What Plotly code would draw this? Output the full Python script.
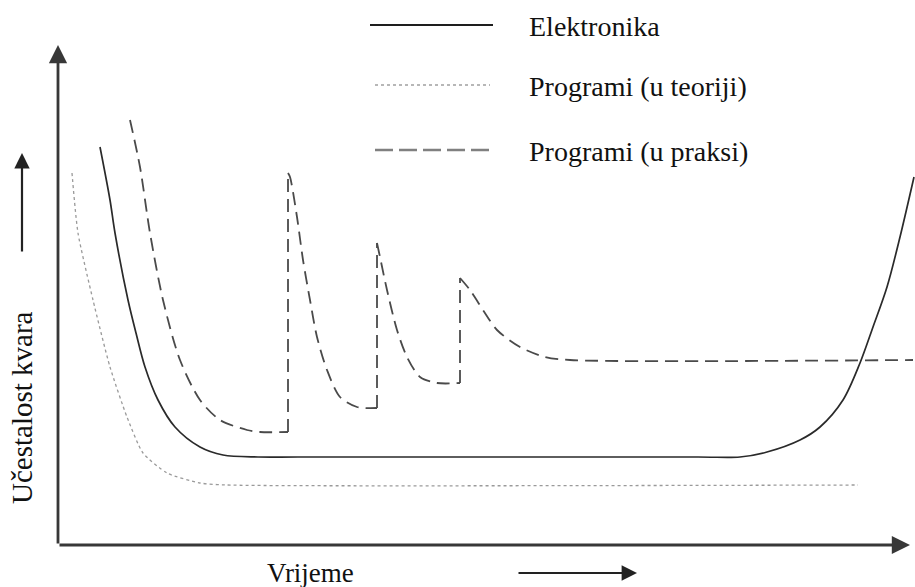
import plotly.graph_objects as go

# Schematic "bathtub" failure-rate curves (time units, failure-rate units)
elektronika_t = [42, 52, 57, 70, 78, 87, 100, 117, 142, 165, 200, 240, 640, 682, 709, 742, 762, 785, 802, 815, 829, 842, 856]
elektronika_r = [398, 345, 312, 245, 212, 178, 145, 118, 98, 90, 88, 88, 88, 88, 93, 105, 118, 145, 182, 218, 258, 308, 368]

teorija_t = [14, 20, 35, 52, 69, 85, 109, 142, 169, 800]
teorija_r = [372, 312, 245, 178, 128, 92, 72, 62, 60, 60]

praksa_t = [72, 82, 92, 105, 122, 142, 162, 189, 202, 230, 230, 232, 239, 245, 252, 259, 269, 282, 299, 319,
            319, 322, 329, 339, 349, 362, 379, 402, 402, 412, 425, 439, 462, 487, 512, 855]
praksa_r = [425, 378, 312, 245, 185, 145, 125, 115, 113, 113, 372, 368, 328, 285, 245, 208, 175, 148, 138, 137,
            302, 288, 255, 215, 188, 168, 162, 162, 267, 255, 235, 215, 198, 188, 185, 185]

serije = ["Elektronika", "Programi (u teoriji)", "Programi (u praksi)"]
os_x = "Vrijeme"
os_y = "Učestalost kvara"

FONT = "Liberation Serif"

fig = go.Figure()
fig.add_trace(go.Scatter(x=teorija_t, y=teorija_r, mode="lines", name=serije[1],
                         line=dict(color="#9a9a9a", width=1.3, dash="dot", shape="spline", smoothing=0.6)))
fig.add_trace(go.Scatter(x=elektronika_t, y=elektronika_r, mode="lines", name=serije[0],
                         line=dict(color="#2a2a2a", width=1.7, shape="spline", smoothing=0.9)))

# "in practice" curve: smooth decays between sudden jumps (jumps = repeated time value)
praksa_style = dict(color="#4a4a4a", width=1.8, dash="13px,7px")
start = 0
for i in range(1, len(praksa_t) + 1):
    if i == len(praksa_t) or praksa_t[i] == praksa_t[i - 1]:
        fig.add_trace(go.Scatter(x=praksa_t[start:i], y=praksa_r[start:i], mode="lines", name=serije[2],
                                 line=dict(**praksa_style, shape="spline", smoothing=0.8)))
        if i < len(praksa_t):
            fig.add_trace(go.Scatter(x=praksa_t[i - 1:i + 1], y=praksa_r[i - 1:i + 1], mode="lines",
                                     name=serije[2], line=praksa_style))
        start = i

# legend (drawn manually: long sample lines)
leg_y = [520, 460, 395]
leg_styles = [dict(color="#1e1e1e", width=1.8),
              dict(color="#a0a0a0", width=1.3, dash="dot"),
              dict(color="#808080", width=2.6, dash="18px,6px")]
leg_x = [[312, 435], [317, 432], [317, 432]]
for i in range(3):
    fig.add_shape(type="line", x0=leg_x[i][0], x1=leg_x[i][1], y0=leg_y[i], y1=leg_y[i],
                  xref="x", yref="y", line=leg_styles[i])
    fig.add_annotation(x=469, y=leg_y[i] - 1, text=serije[i], showarrow=False, xanchor="left",
                       yanchor="middle", font=dict(family=FONT, size=28, color="#111"))

# axes with arrowheads
fig.add_annotation(x=0, y=500, ax=0, ay=0, xref="x", yref="y", axref="x", ayref="y", text="",
                   showarrow=True, arrowhead=2, arrowsize=1.3, arrowwidth=2.8, arrowcolor="#383838")
fig.add_annotation(x=852, y=0, ax=0, ay=0, xref="x", yref="y", axref="x", ayref="y", text="",
                   showarrow=True, arrowhead=2, arrowsize=1.3, arrowwidth=2.8, arrowcolor="#383838")
# small direction arrows near the labels
fig.add_annotation(x=-36, y=392, ax=-36, ay=292, xref="x", yref="y", axref="x", ayref="y", text="",
                   showarrow=True, arrowhead=2, arrowsize=1.4, arrowwidth=2.2, arrowcolor="#222")
fig.add_annotation(x=579, y=-28, ax=459, ay=-28, xref="x", yref="y", axref="x", ayref="y", text="",
                   showarrow=True, arrowhead=2, arrowsize=1.4, arrowwidth=2.2, arrowcolor="#222")

fig.add_annotation(x=252, y=-28, text=os_x, showarrow=False, xanchor="center", yanchor="middle",
                   font=dict(family=FONT, size=27, color="#111"))
fig.add_annotation(x=-36, y=137, text=os_y, showarrow=False, textangle=-90, xanchor="center",
                   yanchor="middle", font=dict(family=FONT, size=29, color="#111"))

fig.update_layout(width=915, height=587, margin=dict(l=0, r=0, t=0, b=0),
                  font=dict(family=FONT),
                  paper_bgcolor="white", plot_bgcolor="white", showlegend=False,
                  xaxis=dict(range=[-58, 857], visible=False, fixedrange=True),
                  yaxis=dict(range=[-42, 545], visible=False, fixedrange=True))

fig.write_html("out.html", config=dict(displayModeBar=False),
               post_script="document.body.style.margin='0';document.body.style.overflow='hidden';")
